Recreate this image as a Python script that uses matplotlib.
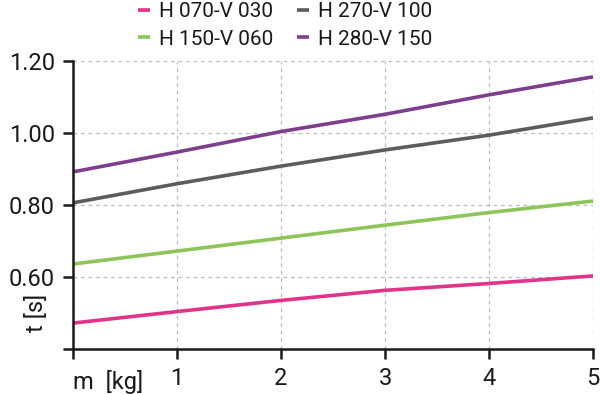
import matplotlib
matplotlib.use("Agg")
import matplotlib.pyplot as plt
from matplotlib import font_manager

names = {f.name for f in font_manager.fontManager.ttflist}
fam = 'Liberation Sans Narrow' if 'Liberation Sans Narrow' in names else 'Roboto'
plt.rcParams['font.family'] = [fam, 'DejaVu Sans']

x = [0, 1, 2, 3, 4, 5]
series_names = ["H 070-V 030", "H 150-V 060", "H 270-V 100", "H 280-V 150"]
h070 = [0.472, 0.504, 0.535, 0.563, 0.582, 0.603]
h150 = [0.636, 0.672, 0.708, 0.744, 0.779, 0.811]
h270 = [0.806, 0.859, 0.908, 0.953, 0.994, 1.042]
h280 = [0.892, 0.947, 1.004, 1.052, 1.106, 1.156]
colors = ["#e0338a", "#8cc558", "#5c5c5c", "#7e3e8e"]
yticks = [0.40, 0.60, 0.80, 1.00, 1.20]
ytick_labels = ["", "0.60", "0.80", "1.00", "1.20"]
xtick_labels = ["", "1", "2", "3", "4", "5"]

fig = plt.figure(figsize=(6, 3.94), dpi=100)
ax = fig.add_axes([0.1217, 0.1142, 0.8667, 0.7310])
lines = []
for vals, c, n in zip([h070, h150, h270, h280], colors, series_names):
    l, = ax.plot(x, vals, color=c, lw=2.6, label=n, solid_capstyle='butt', clip_on=False)
    lines.append(l)

ax.set_xlim(0, 5)
ax.set_ylim(0.40, 1.20)
ax.set_xticks(x)
ax.set_xticklabels(xtick_labels)
ax.set_yticks(yticks)
ax.set_yticklabels(ytick_labels)
ax.grid(True, color="#bdbdbd", linestyle=(0, (3, 3)), lw=0.9)
ax.set_axisbelow(True)
for s in ['top', 'right']:
    ax.spines[s].set_visible(False)
for s in ['left', 'bottom']:
    ax.spines[s].set_linewidth(1.8)
    ax.spines[s].set_color("#1a1a1a")
ax.tick_params(axis='both', length=7, width=1.8, color="#1a1a1a", labelsize=17, labelcolor="#1a1a1a", pad=6)
ax.text(0.0, -0.115, "m  [kg]", transform=ax.transAxes, ha='left', va='center', fontsize=17, color="#1a1a1a")
ax.text(-0.07, 0.125, "t [s]", transform=ax.transAxes, ha='center', va='center', fontsize=17, rotation=90, color="#1a1a1a")

order = [lines[0], lines[1], lines[2], lines[3]]
leg = fig.legend(order, [l.get_label() for l in order], ncol=2, frameon=False,
                 loc='upper left', bbox_to_anchor=(0.198, 1.042), fontsize=15,
                 handlelength=0.6, handletextpad=0.45, columnspacing=1.1, labelspacing=0.4)
for t in leg.get_texts():
    t.set_color("#1a1a1a")

fig.savefig("out.png", dpi=100)
